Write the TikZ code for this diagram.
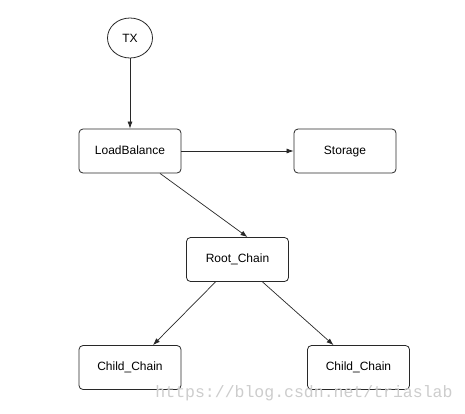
\documentclass[tikz,border=0pt]{standalone}
\usepackage{fontspec}
\setmainfont{Liberation Sans}
\newfontfamily\markfont{Liberation Mono}
\usepackage{xcolor}
\usepackage{tikz}
\usetikzlibrary{shapes.geometric,arrows.meta}
\definecolor{lineink}{RGB}{40,40,40}
\definecolor{markink}{RGB}{205,205,205}

\begin{document}
\begin{tikzpicture}[x=1pt,y=-1pt,
    chainbox/.style={draw=lineink,line width=0.8pt,rounded corners=4pt,
        minimum width=102pt,minimum height=44pt,text height=8.7pt,text depth=2.6pt,
        font=\fontsize{12}{14}\selectfont},
    link/.style={draw=lineink,line width=0.7pt,-{Latex[length=7pt,width=5pt]}}]
    \useasboundingbox (0,0) rectangle (465,413);
    \fill[white] (0,0) rectangle (465,413);

    % Entry
    \node[ellipse,draw=lineink,line width=0.8pt,minimum width=45pt,minimum height=40pt,
          inner sep=0pt,font=\fontsize{12}{14}\selectfont] (tx) at (130,38) {TX};

    % Boxes
    \node[chainbox] (balance) at (130,151) {LoadBalance};
    \node[chainbox] (storage) at (345,151) {Storage};
    \node[chainbox] (root) at (237.5,259.5) {Root\_Chain};
    \node[chainbox] (childa) at (130,367.5) {Child\_Chain};
    \node[chainbox] (childb) at (358.5,367.5) {Child\_Chain};

    % Links
    \draw[link] (tx.south) -- (balance.north);
    \draw[link] (balance.east) -- (storage.west);
    \draw[link] ([xshift=30pt]balance.south) -- ([xshift=10pt]root.north);
    \draw[link] ([xshift=-22pt]root.south) -- ([xshift=23pt]childa.north);
    \draw[link] ([xshift=25pt]root.south) -- ([xshift=-25pt]childb.north);

    % Watermark
    \node[text=markink,font=\markfont\fontsize{16.5}{18}\selectfont,inner sep=0pt] (mark)
        at (304,393) {https://blog.csdn.net/triaslab};
\end{tikzpicture}
\end{document}
